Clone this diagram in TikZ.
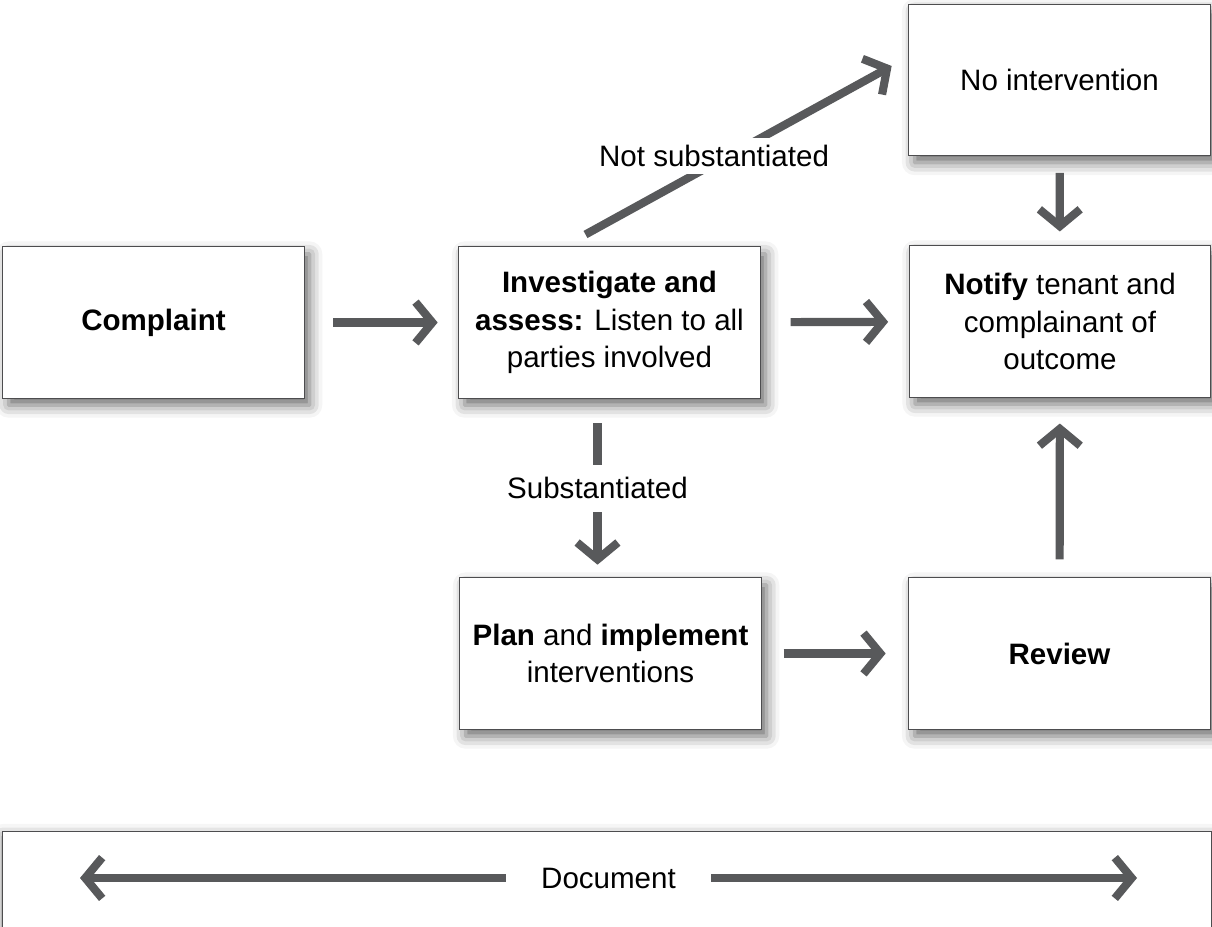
\documentclass[tikz,border=0pt]{standalone}
\usepackage{fontspec}
\setmainfont{Liberation Sans}
\usetikzlibrary{arrows.meta,shadows.blur}
\definecolor{arrowgray}{HTML}{58595B}
\definecolor{boxline}{HTML}{4D4D4F}

\begin{document}
\begin{tikzpicture}[line cap=butt,line join=miter,x=0.025cm,y=-0.025cm,
  >={Straight Barb[length=12pt,width=29pt,line cap=butt,line join=miter]},
  stagebox/.style={draw=boxline,line width=0.7pt,fill=white,align=center,inner sep=0pt,
    minimum width=7.525cm,minimum height=3.775cm,
    font=\fontsize{21}{26.5}\selectfont,
    blur shadow={shadow xshift=4pt,shadow yshift=-5pt,shadow blur radius=9pt,shadow opacity=60}},
  flow/.style={draw=arrowgray,line width=5.8pt,->},
  flowlabel/.style={fill=white,inner xsep=6pt,inner ysep=6pt,font=\fontsize{21}{24}\selectfont}]
\useasboundingbox (0,0) rectangle (1212,927);

\node[stagebox] (complaint) at (153.5,322.5) {\textbf{Complaint}};
\node[stagebox] (investigate) at (609.5,322.5) {\textbf{Investigate and}\\ \textbf{assess:} Listen to all\\ parties involved};
\node[stagebox] (nointervention) at (1059.5,80) {No intervention};
\node[stagebox] (notify) at (1060,321.5) {\textbf{Notify} tenant and\\ complainant of\\ outcome};
\node[stagebox] (plan) at (610.5,653.5) {\textbf{Plan} and \textbf{implement}\\ interventions};
\node[stagebox] (review) at (1059.5,653.5) {\textbf{Review}};

\draw[flow,shorten <=0.72cm,shorten >=0.52cm] (complaint) -- (investigate);
\draw[flow,shorten <=0.75cm,shorten >=0.52cm] (investigate) -- (notify);
\draw[flow,shorten <=0.55cm,shorten >=0.57cm] (plan) -- (review);
\draw[flow,shorten <=0.42cm,shorten >=0.35cm] (nointervention) -- (notify);
\draw[flow,shorten <=0.45cm,shorten >=0.65cm] (review) -- (notify);
\draw[flow,shorten <=0.62cm,shorten >=0.32cm] ([xshift=-0.3cm]investigate.south) -- ([xshift=-0.3cm]investigate.south |- plan.north)
  node[flowlabel,pos=0.5,inner ysep=9pt] (substantiated) {Substantiated};
\draw[flow] ([xshift=-0.6cm,yshift=0.3cm]investigate.north) -- ([xshift=-0.42cm,yshift=0.35cm]nointervention.west)
  node[flowlabel,pos=0.42,yshift=0.2cm,inner ysep=5pt] (notsubstantiated) {Not substantiated};

\node[draw=boxline,line width=0.7pt,fill=white,inner sep=0pt,minimum width=30.2cm,minimum height=2.75cm,
  blur shadow={shadow xshift=0pt,shadow yshift=-4pt,shadow blur radius=9pt,shadow opacity=55}] (documentbox) at (607,886) {};
\coordinate (docleft) at (80,878);
\coordinate (docright) at (1137,878);
\draw[flow,<->] (docleft) -- (docright) node[flowlabel,midway,inner xsep=25pt] (document) {Document};
\end{tikzpicture}
\end{document}
